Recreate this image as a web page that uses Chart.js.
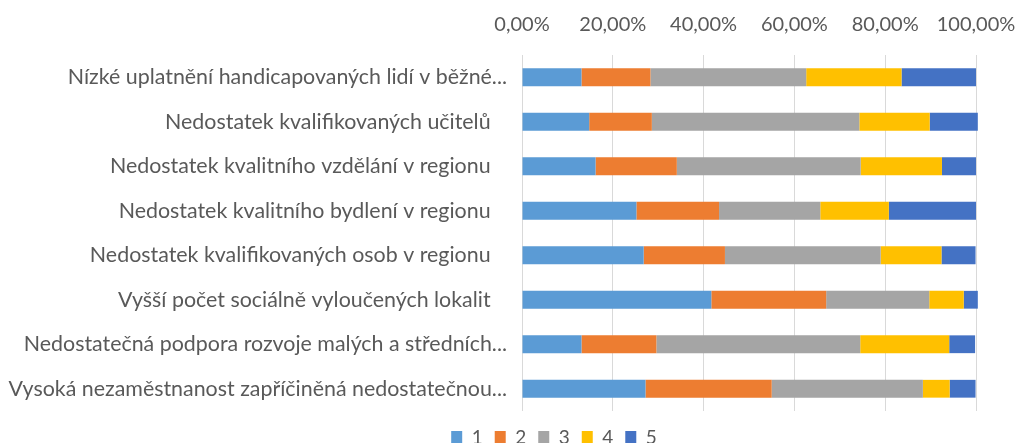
<!DOCTYPE html>
<html>
<head>
<meta charset="utf-8">
<script src="https://cdn.jsdelivr.net/npm/chart.js@4.4.1/dist/chart.umd.min.js"></script>
<style>
  body { margin: 0; background: #fff; }
  #wrap { width: 1019px; height: 443px; }
</style>
</head>
<body>
<div id="wrap"><canvas id="myChart"></canvas></div>
<script>
// categories (top to bottom as shown)
var categories = [
  "Nízké uplatnění handicapovaných lidí v běžné...",
  "Nedostatek kvalifikovaných učitelů   ",
  "Nedostatek kvalitního vzdělání v regionu   ",
  "Nedostatek kvalitního bydlení v regionu   ",
  "Nedostatek kvalifikovaných osob v regionu   ",
  "Vyšší počet sociálně vyloučených lokalit   ",
  "Nedostatečná podpora rozvoje malých a středních...",
  "Vysoká nezaměstnanost zapříčiněná nedostatečnou..."
];
var seriesNames = ["1", "2", "3", "4", "5"];

// percentages per answer
var s1 = [13.1, 14.8, 16.2, 25.2, 26.8, 41.7, 13.1, 27.2];
var s2 = [15.2, 13.8, 17.9, 18.2, 17.9, 25.3, 16.5, 27.8];
var s3 = [34.3, 45.7, 40.5, 22.3, 34.3, 22.7, 44.9, 33.3];
var s4 = [21.0, 15.5, 17.9, 15.1, 13.4, 7.6, 19.6, 5.9];
var s5 = [16.4, 10.6, 7.5, 19.2, 7.5, 3.1, 5.7, 5.7];

var tickValues = [0, 20, 40, 60, 80, 100];
var barColors = ["#5B9BD5", "#ED7D31", "#A5A5A5", "#FFC000", "#4472C4"];

var allSeries = [s1, s2, s3, s4, s5];
var datasets = allSeries.map(function (vals, i) {
  return {
    label: seriesNames[i],
    data: vals,
    backgroundColor: barColors[i],
    borderWidth: 0,
    barPercentage: 0.8,
    categoryPercentage: 0.5,
    clip: false
  };
});

var textColor = "#595959";
var font = "Lato, 'Open Sans', sans-serif";

// move legend under the plot like excel does
var legendShift = {
  id: "legendShift",
  afterLayout: function (chart) {
    var lg = chart.legend;
    lg.left += 66; lg.right += 66;
    lg.top += 5; lg.bottom += 5;
  }
};

new Chart("myChart", {
  type: "bar",
  data: {
    labels: categories,
    datasets: datasets
  },
  plugins: [legendShift],
  options: {
    indexAxis: "y",
    responsive: true,
    maintainAspectRatio: false,
    animation: false,
    layout: { padding: { top: 0, right: 43, bottom: -9, left: 0 } },
    scales: {
      x: {
        position: "top",
        stacked: true,
        min: 0,
        max: 100,
        afterBuildTicks: function (scale) {
          scale.ticks = tickValues.map(function (v) { return { value: v }; });
        },
        afterFit: function (scale) {
          scale.height = 55;
          scale.paddingLeft = 0;
          scale.paddingRight = 0;
        },
        ticks: {
          color: textColor,
          font: { family: font, size: 20 },
          padding: 18,
          maxRotation: 0,
          callback: function (v) { return v.toFixed(2).replace(".", ",") + "%"; }
        },
        grid: { color: "#D9D9D9", drawTicks: false },
        border: { display: false }
      },
      y: {
        stacked: true,
        afterFit: function (scale) { scale.width = 522; },
        ticks: {
          color: textColor,
          font: { family: font, size: 21.4 },
          padding: 7
        },
        grid: { display: false },
        border: { display: false }
      }
    },
    plugins: {
      legend: {
        position: "bottom",
        labels: {
          color: textColor,
          font: { family: font, size: 19 },
          boxWidth: 11,
          boxHeight: 13,
          padding: 12
        }
      },
      tooltip: { enabled: false }
    }
  }
});
</script>
</body>
</html>
